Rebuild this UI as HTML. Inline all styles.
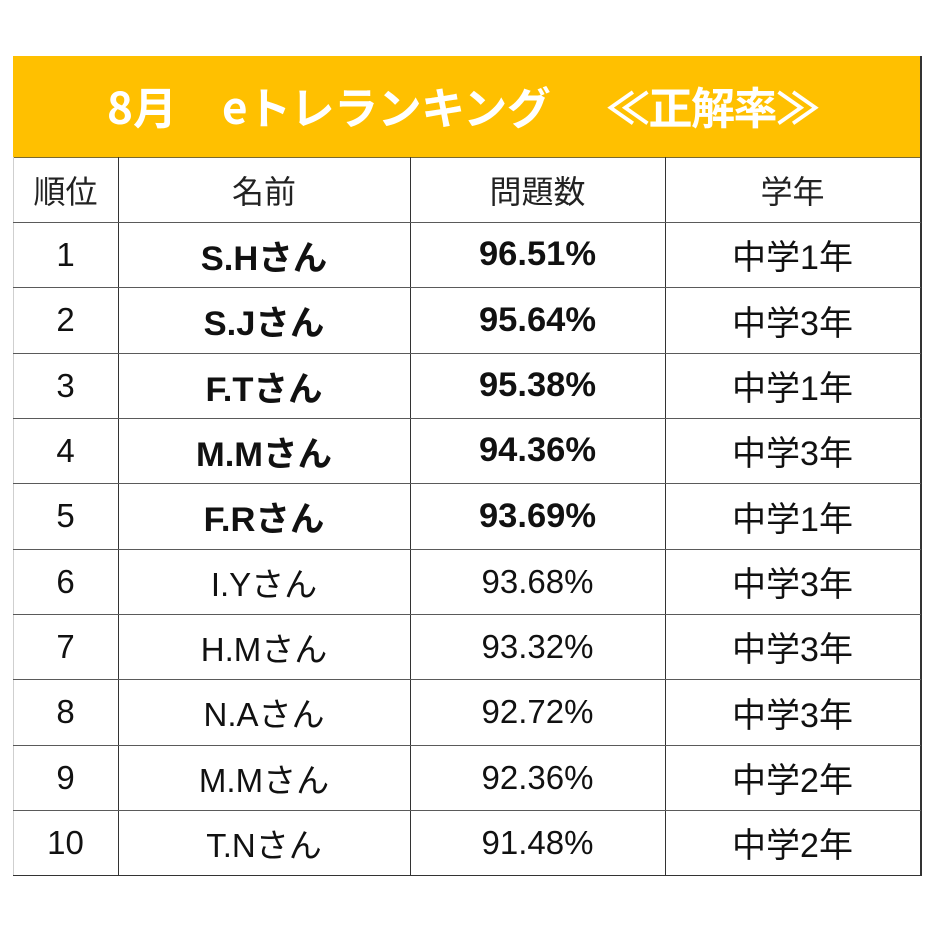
<!DOCTYPE html>
<html lang="ja">
<head>
<meta charset="utf-8">
<style>
  html, body { margin:0; padding:0; }
  body { width:933px; height:933px; background:#fff; position:relative; overflow:hidden;
         font-family:"Liberation Sans","Noto Sans CJK JP",sans-serif; color:#111; }
  .abs { position:absolute; }
  .yellow { left:13px; top:56px; width:907px; height:101px; background:#FFC000; }
  .title { position:absolute; top:77px; height:56px; line-height:56px; color:#fff; font-weight:bold;
           font-family:"Noto Sans CJK JP","Liberation Sans",sans-serif; font-size:44px; white-space:nowrap; }
  .hl { position:absolute; left:13px; width:908px; height:1px; background:#5a5a5a; }
  .vl { position:absolute; top:157px; width:1px; height:719px; background:#333; }
  .cell { position:absolute; display:flex; align-items:center; justify-content:center; white-space:nowrap; font-size:33px; }
  .hd { font-size:32px; color:#222; font-family:"Noto Sans CJK JP","Liberation Sans",sans-serif; }
  .b { font-weight:bold; font-size:34.5px; }
  .g { font-size:34px; }
</style>
</head>
<body>
  <div class="abs yellow"></div>
  <div class="title" style="left:107px;">8月</div>
  <div class="title" style="left:222px; letter-spacing:-0.5px;">eトレランキング</div>
  <div class="title" style="left:606px; letter-spacing:-1.5px;">≪正解率≫</div>

  <!-- borders -->
  <div class="abs" style="left:13px; top:157px; width:908px; height:1px; background:#7a6a30;"></div>
  <div class="abs" style="left:13px; top:157px; width:1px; height:719px; background:#cfcfcf;"></div>
  <div class="abs" style="left:920px; top:56px; width:1.5px; height:820px; background:#333;"></div>
  <div class="vl" style="left:118px;"></div>
  <div class="vl" style="left:410px;"></div>
  <div class="vl" style="left:665px;"></div>

  <div class="hl" style="top:222px;"></div>
  <div class="hl" style="top:287px;"></div>
  <div class="hl" style="top:353px;"></div>
  <div class="hl" style="top:418px;"></div>
  <div class="hl" style="top:483px;"></div>
  <div class="hl" style="top:549px;"></div>
  <div class="hl" style="top:614px;"></div>
  <div class="hl" style="top:679px;"></div>
  <div class="hl" style="top:745px;"></div>
  <div class="hl" style="top:810px;"></div>
  <div class="hl" style="top:875px; background:#333;"></div>

  <!-- header row -->
  <div class="cell hd" style="left:13px; width:105px; top:157px; height:65px;">順位</div>
  <div class="cell hd" style="left:118px; width:292px; top:157px; height:65px;">名前</div>
  <div class="cell hd" style="left:410px; width:255px; top:157px; height:65px;">問題数</div>
  <div class="cell hd" style="left:665px; width:255px; top:157px; height:65px;">学年</div>

  <!-- row 1 -->
  <div class="cell" style="left:13px; width:105px; top:222px; height:65px;">1</div>
  <div class="cell b" style="left:118px; width:292px; top:222px; height:65px;">S.Hさん</div>
  <div class="cell b" style="left:410px; width:255px; top:222px; height:65px;">96.51%</div>
  <div class="cell g" style="left:665px; width:255px; top:222px; height:65px;">中学1年</div>
  <!-- row 2 -->
  <div class="cell" style="left:13px; width:105px; top:287px; height:66px;">2</div>
  <div class="cell b" style="left:118px; width:292px; top:287px; height:66px;">S.Jさん</div>
  <div class="cell b" style="left:410px; width:255px; top:287px; height:66px;">95.64%</div>
  <div class="cell g" style="left:665px; width:255px; top:287px; height:66px;">中学3年</div>
  <!-- row 3 -->
  <div class="cell" style="left:13px; width:105px; top:353px; height:65px;">3</div>
  <div class="cell b" style="left:118px; width:292px; top:353px; height:65px;">F.Tさん</div>
  <div class="cell b" style="left:410px; width:255px; top:353px; height:65px;">95.38%</div>
  <div class="cell g" style="left:665px; width:255px; top:353px; height:65px;">中学1年</div>
  <!-- row 4 -->
  <div class="cell" style="left:13px; width:105px; top:418px; height:65px;">4</div>
  <div class="cell b" style="left:118px; width:292px; top:418px; height:65px;">M.Mさん</div>
  <div class="cell b" style="left:410px; width:255px; top:418px; height:65px;">94.36%</div>
  <div class="cell g" style="left:665px; width:255px; top:418px; height:65px;">中学3年</div>
  <!-- row 5 -->
  <div class="cell" style="left:13px; width:105px; top:483px; height:66px;">5</div>
  <div class="cell b" style="left:118px; width:292px; top:483px; height:66px;">F.Rさん</div>
  <div class="cell b" style="left:410px; width:255px; top:483px; height:66px;">93.69%</div>
  <div class="cell g" style="left:665px; width:255px; top:483px; height:66px;">中学1年</div>
  <!-- row 6 -->
  <div class="cell" style="left:13px; width:105px; top:549px; height:65px;">6</div>
  <div class="cell" style="left:118px; width:292px; top:549px; height:65px;">I.Yさん</div>
  <div class="cell" style="left:410px; width:255px; top:549px; height:65px;">93.68%</div>
  <div class="cell g" style="left:665px; width:255px; top:549px; height:65px;">中学3年</div>
  <!-- row 7 -->
  <div class="cell" style="left:13px; width:105px; top:614px; height:65px;">7</div>
  <div class="cell" style="left:118px; width:292px; top:614px; height:65px;">H.Mさん</div>
  <div class="cell" style="left:410px; width:255px; top:614px; height:65px;">93.32%</div>
  <div class="cell g" style="left:665px; width:255px; top:614px; height:65px;">中学3年</div>
  <!-- row 8 -->
  <div class="cell" style="left:13px; width:105px; top:679px; height:66px;">8</div>
  <div class="cell" style="left:118px; width:292px; top:679px; height:66px;">N.Aさん</div>
  <div class="cell" style="left:410px; width:255px; top:679px; height:66px;">92.72%</div>
  <div class="cell g" style="left:665px; width:255px; top:679px; height:66px;">中学3年</div>
  <!-- row 9 -->
  <div class="cell" style="left:13px; width:105px; top:745px; height:65px;">9</div>
  <div class="cell" style="left:118px; width:292px; top:745px; height:65px;">M.Mさん</div>
  <div class="cell" style="left:410px; width:255px; top:745px; height:65px;">92.36%</div>
  <div class="cell g" style="left:665px; width:255px; top:745px; height:65px;">中学2年</div>
  <!-- row 10 -->
  <div class="cell" style="left:13px; width:105px; top:810px; height:65px;">10</div>
  <div class="cell" style="left:118px; width:292px; top:810px; height:65px;">T.Nさん</div>
  <div class="cell" style="left:410px; width:255px; top:810px; height:65px;">91.48%</div>
  <div class="cell g" style="left:665px; width:255px; top:810px; height:65px;">中学2年</div>
</body>
</html>
